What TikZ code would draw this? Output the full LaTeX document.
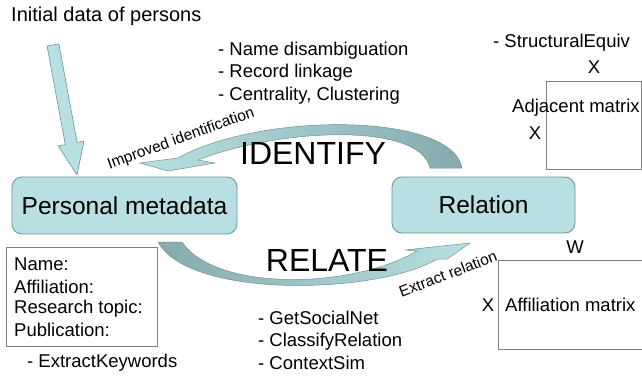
\documentclass[tikz,border=0pt]{standalone}
\usepackage{fontspec}
\setmainfont{Liberation Sans}
\usetikzlibrary{arrows}
\definecolor{metafill}{HTML}{B8E0E2}
\definecolor{metaline}{HTML}{6C9396}
\definecolor{metadark}{HTML}{86ABAE}
\definecolor{frameline}{HTML}{808080}
\begin{document}
\begin{tikzpicture}[x=1pt, y=-1pt, >=latex,
    metabox/.style={draw=metaline, fill=metafill, rounded corners=10pt, line width=0.8pt,
      font=\fontsize{24.5}{28}\selectfont},
    frame/.style={draw=frameline, line width=0.8pt},
    txt/.style={font=\fontsize{18.5}{22.5}\selectfont, inner sep=0pt, anchor=west, align=left},
    bigtxt/.style={font=\fontsize{32}{36}\selectfont, inner sep=0pt},
    smalltxt/.style={font=\fontsize{15.5}{18}\selectfont, inner sep=0pt}]
  \useasboundingbox (0,0) rectangle (642,377);
  % Rahmen
  \draw[frame] (6,247) rectangle (157,346);
  \draw[frame] (546,81) rectangle (641,169);
  \draw[frame] (498,260) rectangle (660,349);
  % Kaesten
  \node[metabox, minimum width=225pt, minimum height=57pt] (meta) at (124.5,205.5) {Personal metadata};
  \node[metabox, minimum width=183pt, minimum height=56pt] (rel) at (483.5,205) {Relation};
  % Eingangspfeil
  \draw[metaline, fill=metafill, line width=0.6pt, line join=round]
    (47.1,46.1) -- (58.9,43.9) -- (77.1,142.4) -- (84.0,141.1) -- (77,175)
    -- (58.4,145.9) -- (65.3,144.6) -- cycle;
  % IDENTIFY-Bogen
  \path[draw=metaline, line width=0.5pt, left color=metafill, right color=metadark]
    (462,168) .. controls (452,112) and (260,112) .. (178,158) -- (140,163) -- (168,171)
    -- (215,163) -- (198,160) .. controls (280,128) and (420,122) .. (430,168) -- cycle;
  % RELATE-Bogen
  \path[draw=metaline, line width=0.5pt, left color=metadark, right color=metafill]
    (182,242) .. controls (215,291) and (350,290) .. (417,251) -- (405,250) -- (470,243)
    -- (447,259) -- (437,259) .. controls (380,294) and (190,300) .. (158,242) -- cycle;
  % Beschriftung
  \node[txt, font=\fontsize{20}{24}\selectfont] (init) at (11,16) {Initial data of persons};
  \node[txt] (idops) at (218,73) {- Name disambiguation\\- Record linkage\\- Centrality, Clustering};
  \node[bigtxt] (identify) at (313,153) {IDENTIFY};
  \node[smalltxt, rotate=20] (improved) at (181,139) {Improved identification};
  \node[bigtxt] (relate) at (327,260) {RELATE};
  \node[smalltxt, rotate=21] (extract) at (448,274) {Extract relation};
  \node[txt] (relops) at (258,340) {- GetSocialNet\\- ClassifyRelation\\- ContextSim};
  \node[txt] (keywords) at (27,363) {- ExtractKeywords};
  \foreach \t/\y in {Name:/264, Affiliation:/287, Research topic:/309, Publication:/330}
    \node[txt] (attr\y) at (14,\y) {\t};
  % Matrizen
  \node[txt] (equiv) at (493,43) {- StructuralEquiv};
  \node[txt, anchor=center] (adjx) at (594,67) {X};
  \node[txt] (adj) at (512,108) {Adjacent matrix};
  \node[txt, anchor=center] (adjy) at (535,133) {X};
  \node[txt, anchor=center] (affw) at (575,247) {W};
  \node[txt, anchor=center] (affx) at (488,305) {X};
  \node[txt] (aff) at (505,305) {Affiliation matrix};
\end{tikzpicture}
\end{document}
